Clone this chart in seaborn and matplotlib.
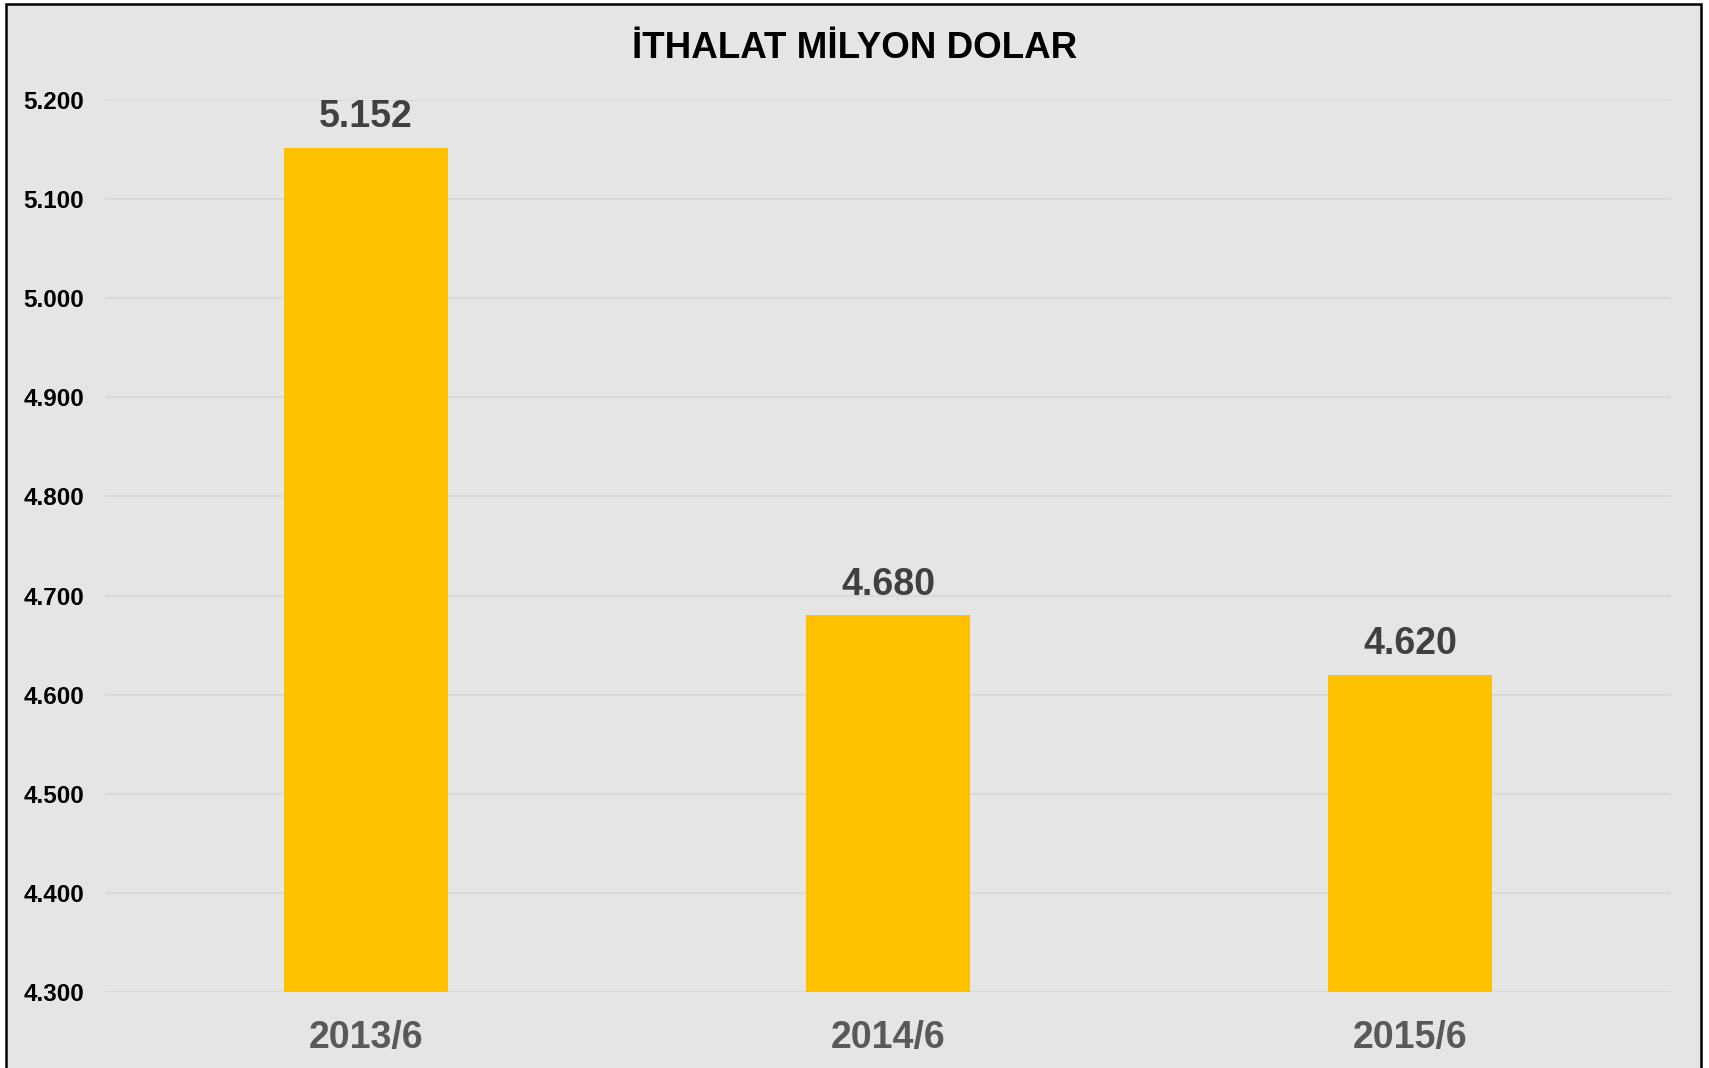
import matplotlib
matplotlib.use("Agg")
import matplotlib.pyplot as plt
import seaborn as sns
import pandas as pd
from matplotlib.patches import Rectangle

categories = ["2013/6", "2014/6", "2015/6"]
values = [5152, 4680, 4620]
value_labels = ["5.152", "4.680", "4.620"]
y_ticks = [4300, 4400, 4500, 4600, 4700, 4800, 4900, 5000, 5100, 5200]
y_tick_labels = ["4.300", "4.400", "4.500", "4.600", "4.700", "4.800", "4.900", "5.000", "5.100", "5.200"]
title = "İTHALAT MİLYON DOLAR"

sns.set_theme(style="whitegrid")
plt.rcParams['font.family'] = ['Liberation Sans', 'DejaVu Sans']

W, H = 1709, 1068
fig = plt.figure(figsize=(W / 100, H / 100), dpi=100, facecolor="white")

bg = "#E5E5E5"
frame = Rectangle((6 / W, -0.02), (1701 - 6) / W, 1 - 4 / H + 0.02,
                  transform=fig.transFigure, facecolor=bg, edgecolor="black",
                  linewidth=1.8, zorder=-10)
fig.patches.append(frame)

ax = fig.add_axes([105 / W, 1 - 992 / H, (1671 - 105) / W, (992 - 100) / H])
ax.set_zorder(5)
ax.set_facecolor(bg)

df = pd.DataFrame({"cat": categories, "val": values})
sns.barplot(data=df, x="cat", y="val", color="#FFC000", saturation=1,
            width=0.313, ax=ax, zorder=3, linewidth=0, edgecolor="none")

ax.set_xlim(-0.5, 2.5)
ax.set_ylim(4300, 5200)
ax.set_yticks(y_ticks)
ax.set_yticklabels(y_tick_labels)
ax.set_xlabel("")
ax.set_ylabel("")
ax.grid(axis="y", color="#D6D6D6", linewidth=1.1, zorder=0)
ax.grid(axis="x", visible=False)
ax.set_axisbelow(True)
for s in ax.spines.values():
    s.set_visible(False)

ax.tick_params(axis="y", length=0, pad=15, labelsize=17.5, labelcolor="black")
ax.tick_params(axis="x", length=0, pad=20, labelsize=27, labelcolor="#595959")
for lbl in ax.get_yticklabels():
    lbl.set_fontweight("bold")
for lbl in ax.get_xticklabels():
    lbl.set_fontweight("bold")

for i, (v, t) in enumerate(zip(values, value_labels)):
    ax.annotate(t, xy=(i, v), xytext=(0, 9), textcoords="offset points",
                ha="center", va="bottom", fontsize=27, fontweight="bold",
                color="#404040")

fig.text(0.5, 1 - 48 / H, title, ha="center", va="center", fontsize=26.5,
         fontweight="bold", color="black", zorder=6)

fig.savefig("out.png", dpi=100, facecolor="white")
